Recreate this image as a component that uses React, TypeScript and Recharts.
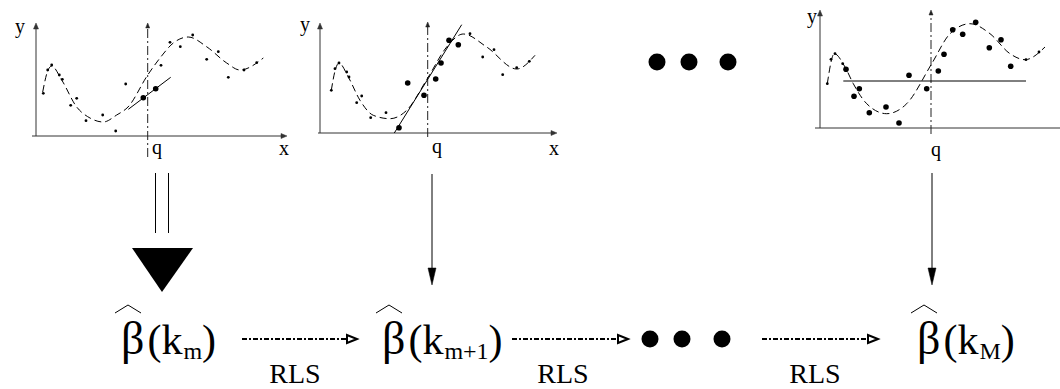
import React from 'react';
import { ComposedChart, XAxis, YAxis, Line, Scatter, ReferenceLine, ReferenceDot } from 'recharts';

const SERIF = "'Liberation Serif', Tinos, 'Times New Roman', 'DejaVu Serif', serif";
const FONT_CSS = `#root svg text.rs-serif, #root svg text.rs-serif tspan { font-family: ${SERIF} !important; }`;

// ---- panel 1: local linear fit at q (units = px from the axis origin)
const curve1 = [
  { x: 6.7, y: 44 }, { x: 11, y: 63 }, { x: 15.7, y: 70 }, { x: 25.7, y: 56 }, { x: 40.7, y: 29 },
  { x: 54, y: 18 }, { x: 67.3, y: 14 }, { x: 80.7, y: 21 }, { x: 92, y: 29 }, { x: 111.7, y: 61 },
  { x: 124, y: 78 }, { x: 137.3, y: 93 }, { x: 152.3, y: 99 }, { x: 171, y: 89 }, { x: 190.7, y: 73 },
  { x: 204, y: 66 }, { x: 227.3, y: 78 },
];
const dots1 = [
  { x: 7.3, y: 42.7 }, { x: 11.7, y: 66 }, { x: 15.7, y: 71 }, { x: 23.3, y: 61 }, { x: 26.3, y: 56.7 },
  { x: 34.7, y: 30.7 }, { x: 40.7, y: 37.7 }, { x: 50, y: 15.3 }, { x: 66.7, y: 21 }, { x: 79.7, y: 5 },
  { x: 89.7, y: 52 }, { x: 125, y: 70.7 }, { x: 134, y: 93.7 }, { x: 144.3, y: 89.3 }, { x: 156.7, y: 101 },
  { x: 170.7, y: 76.7 }, { x: 182.3, y: 84.3 }, { x: 192.3, y: 58.7 }, { x: 208, y: 66 }, { x: 220.7, y: 73.3 },
];
const bigDots1 = [{ x: 107.3, y: 38.3 }, { x: 119.7, y: 47.3 }];
const fit1 = [{ x: 92.3, y: 26.7 }, { x: 134.7, y: 58.7 }];

// ---- panel 2: steeper fit with more weighted points
const curve2 = [
  { x: 11.3, y: 42.7 }, { x: 15, y: 62 }, { x: 19, y: 70 }, { x: 28.3, y: 56 }, { x: 40, y: 32.7 },
  { x: 53.3, y: 17.7 }, { x: 70, y: 14.3 }, { x: 86.7, y: 22.7 }, { x: 107.7, y: 55 }, { x: 126.7, y: 86 },
  { x: 143.3, y: 99 }, { x: 166.7, y: 86 }, { x: 196.7, y: 64 }, { x: 215, y: 77.7 },
];
const dots2 = [
  { x: 11.3, y: 42.7 }, { x: 15, y: 64.3 }, { x: 19, y: 70 }, { x: 26.7, y: 61 }, { x: 29, y: 56 },
  { x: 36.7, y: 30.3 }, { x: 41.7, y: 37 }, { x: 50.7, y: 15.3 }, { x: 66, y: 20.3 }, { x: 150, y: 99.3 },
  { x: 162.7, y: 76 }, { x: 174, y: 83.3 }, { x: 182.7, y: 58.3 }, { x: 196.7, y: 65.3 }, { x: 209.3, y: 71.7 },
];
const bigDots2 = [
  { x: 79, y: 5.3 }, { x: 87.7, y: 50 }, { x: 104, y: 37.7 }, { x: 115.7, y: 54 }, { x: 121, y: 70 },
  { x: 129, y: 92.7 }, { x: 138.3, y: 88.3 },
];
const fit2 = [{ x: 74.3, y: 0 }, { x: 141.7, y: 108.3 }];

// ---- panel 3: constant fit, all points weighted
const curve3 = [
  { x: 7.3, y: 44.3 }, { x: 14.3, y: 74.3 }, { x: 25, y: 61 }, { x: 33.3, y: 44.3 }, { x: 46.7, y: 24.3 },
  { x: 66.7, y: 14.3 }, { x: 86.7, y: 24.3 }, { x: 111.7, y: 64.3 }, { x: 130, y: 94.3 }, { x: 150, y: 104.3 },
  { x: 170, y: 94.3 }, { x: 190, y: 74.3 }, { x: 205, y: 68.3 }, { x: 225, y: 81 },
];
const dots3 = [
  { x: 7.3, y: 44.3 }, { x: 11, y: 68.7 }, { x: 15, y: 74.3 }, { x: 22.7, y: 64.3 }, { x: 206, y: 68.3 },
  { x: 219, y: 76 },
];
const bigDots3 = [
  { x: 26, y: 58.7 }, { x: 34, y: 31.7 }, { x: 39.3, y: 39.3 }, { x: 49.3, y: 15.3 }, { x: 66, y: 21 },
  { x: 79, y: 5 }, { x: 89, y: 52.7 }, { x: 106.7, y: 39.3 }, { x: 118.3, y: 57 }, { x: 124, y: 73.7 },
  { x: 132.7, y: 98.3 }, { x: 142.7, y: 93.7 }, { x: 155.7, y: 105.7 }, { x: 169.3, y: 80.3 },
  { x: 181, y: 88.3 }, { x: 190.7, y: 61.7 },
];
const fit3 = [{ x: 23.3, y: 47 }, { x: 206, y: 47 }];

// ---- lower row (diagram coordinates)
const ellipsisTop = [{ x: 657, y: 62 }, { x: 689, y: 62 }, { x: 728, y: 62 }];
const ellipsisBottom = [{ x: 650, y: 339 }, { x: 682, y: 339 }, { x: 722, y: 339 }];
const stages = [
  { x: 121, y: 354, sub: 'm' },
  { x: 382, y: 354, sub: 'm+1' },
  { x: 917, y: 354, sub: 'M' },
];
const rlsArrows = [
  { from: 242, to: 357, y: 339 },
  { from: 512, to: 628, y: 339 },
  { from: 762, to: 878, y: 339 },
];
const rlsLabels = [{ x: 295, y: 383 }, { x: 563, y: 383 }, { x: 815, y: 383 }];
const downArrows = [
  { x: 432, from: 174, to: 285 },
  { x: 932, from: 173, to: 285 },
];
const bigArrow = { x: 162, from: 173, to: 292 };

type ArrowOpts = { width?: number; dash?: string; hollow?: boolean; color?: string };

const arrowLine = (head: number, half: number, opts: ArrowOpts) => (p: any) => {
  const { x1, y1, x2, y2 } = p;
  const dx = x2 - x1;
  const dy = y2 - y1;
  const len = Math.hypot(dx, dy) || 1;
  const ux = dx / len;
  const uy = dy / len;
  const bx = x2 - ux * head;
  const by = y2 - uy * head;
  const nx = -uy * half;
  const ny = ux * half;
  const c = opts.color ?? '#000';
  const w = opts.width ?? 1;
  return (
    <g>
      <line x1={x1} y1={y1} x2={bx} y2={by} stroke={c} strokeWidth={w} strokeDasharray={opts.dash} />
      <polygon
        points={`${x2},${y2} ${bx + nx},${by + ny} ${bx - nx},${by - ny}`}
        fill={opts.hollow ? '#fff' : c}
        stroke={c}
        strokeWidth={opts.hollow ? w : 0.5}
      />
    </g>
  );
};

// double shaft + big solid head
const doubleArrow = (p: any) => {
  const { x1, y1, y2 } = p;
  return (
    <g>
      <line x1={x1 - 6.5} y1={y1} x2={x1 - 6.5} y2={y1 + 60} stroke="#000" strokeWidth={1} />
      <line x1={x1 + 6.5} y1={y1} x2={x1 + 6.5} y2={y1 + 60} stroke="#000" strokeWidth={1} />
      <polygon points={`${x1 - 30},${y2 - 44} ${x1 + 31},${y2 - 44} ${x1},${y2}`} fill="#000" />
    </g>
  );
};

const smallDot = (p: any) => <circle cx={p.cx} cy={p.cy} r={1.4} fill="#000" />;
const bigDot = (p: any) => <circle cx={p.cx} cy={p.cy} r={2.8} fill="#000" />;
const ellipsisDot = (p: any) => <circle cx={p.cx} cy={p.cy} r={8.5} fill="#000" />;

const textShape = (value: string, size: number) => (p: any) => (
  <text
    className="rs-serif"
    x={p.cx}
    y={p.cy}
    textAnchor="middle"
    fontFamily={SERIF}
    fontSize={size}
    style={{ fontFamily: SERIF }}
    fill="#000"
  >
    {value}
  </text>
);

const betaShape = (sub: string) => (p: any) => {
  const { cx, cy } = p;
  return (
    <g>
      <polyline
        points={`${cx - 6},${cy - 41} ${cx + 7},${cy - 49} ${cx + 20},${cy - 41}`}
        fill="none"
        stroke="#000"
        strokeWidth={1}
      />
      <text className="rs-serif" x={cx} y={cy} fontFamily={SERIF} style={{ fontFamily: SERIF }} fill="#000">
        <tspan fontSize={46}>β</tspan>
        <tspan fontSize={42} dx={3}>(k</tspan>
        <tspan fontSize={24} dx={1} dy={5}>{sub}</tspan>
        <tspan fontSize={42} dy={-5}>)</tspan>
      </text>
    </g>
  );
};

type PanelProps = {
  left: number;
  top: number;
  xDomain: [number, number];
  yDomain: [number, number];
  curve: { x: number; y: number }[];
  dots: { x: number; y: number }[];
  bigDots: { x: number; y: number }[];
  fit: { x: number; y: number }[];
  xAxis: [number, number];
  yTop: number;
  q: number;
  qRange: [number, number];
  labels: { x: number; y: number; text: string }[];
};

const Panel = (props: PanelProps) => {
  const { left, top, xDomain, yDomain } = props;
  const width = xDomain[1] - xDomain[0];
  const height = yDomain[1] - yDomain[0];
  return (
    <div style={{ position: 'absolute', left, top, width, height }}>
      <ComposedChart width={width} height={height} margin={{ top: 0, right: 0, bottom: 0, left: 0 }}>
        <XAxis type="number" dataKey="x" domain={xDomain} allowDataOverflow hide />
        <YAxis type="number" dataKey="y" domain={yDomain} allowDataOverflow hide />
        <ReferenceLine
          segment={[{ x: props.xAxis[0], y: 0 }, { x: props.xAxis[1], y: 0 }]}
          ifOverflow="visible"
          shape={arrowLine(6, 2.5, { color: '#333' })}
        />
        <ReferenceLine
          segment={[{ x: 0, y: 0 }, { x: 0, y: props.yTop }]}
          ifOverflow="visible"
          shape={arrowLine(6, 2.5, { color: '#333' })}
        />
        <ReferenceLine
          segment={[{ x: props.q, y: props.qRange[0] }, { x: props.q, y: props.qRange[1] }]}
          ifOverflow="visible"
          shape={arrowLine(5, 2, { dash: '9 3 2 3', color: '#222' })}
        />
        <Line
          data={props.curve}
          dataKey="y"
          type="monotone"
          stroke="#000"
          strokeWidth={1}
          strokeDasharray="7 4"
          dot={false}
          activeDot={false}
          isAnimationActive={false}
        />
        <Line
          data={props.fit}
          dataKey="y"
          type="linear"
          stroke="#000"
          strokeWidth={1}
          dot={false}
          activeDot={false}
          isAnimationActive={false}
        />
        <Scatter data={props.dots} dataKey="y" shape={smallDot} isAnimationActive={false} />
        <Scatter data={props.bigDots} dataKey="y" shape={bigDot} isAnimationActive={false} />
        {props.labels.map((l, i) => (
          <ReferenceDot key={i} x={l.x} y={l.y} r={0} ifOverflow="visible" shape={textShape(l.text, 20)} />
        ))}
      </ComposedChart>
    </div>
  );
};

const App = () => {
  return (
    <div style={{ position: 'absolute', left: 0, top: 0, width: 1060, height: 389, background: '#fff', overflow: 'hidden' }}>
      <style>{FONT_CSS}</style>
      <Panel
        left={6}
        top={6}
        xDomain={[-30, 260]}
        yDomain={[-30, 130]}
        curve={curve1}
        dots={dots1}
        bigDots={bigDots1}
        fit={fit1}
        xAxis={[-4, 251]}
        yTop={113}
        q={111.7}
        qRange={[-21, 113]}
        labels={[
          { x: -16, y: 103, text: 'y' },
          { x: 248, y: -19, text: 'x' },
          { x: 121, y: -18, text: 'q' },
        ]}
      />
      <Panel
        left={295}
        top={3}
        xDomain={[-25, 245]}
        yDomain={[-30, 130]}
        curve={curve2}
        dots={dots2}
        bigDots={bigDots2}
        fit={fit2}
        xAxis={[-2, 237]}
        yTop={110}
        q={107.7}
        qRange={[-4, 111]}
        labels={[
          { x: -15, y: 102, text: 'y' },
          { x: 234, y: -22, text: 'x' },
          { x: 117, y: -20, text: 'q' },
        ]}
      />
      <Panel
        left={800}
        top={0}
        xDomain={[-20, 240]}
        yDomain={[-35, 128]}
        curve={curve3}
        dots={dots3}
        bigDots={bigDots3}
        fit={fit3}
        xAxis={[-5, 260]}
        yTop={118}
        q={111}
        qRange={[-6, 118]}
        labels={[
          { x: -8, y: 105, text: 'y' },
          { x: 116, y: -28, text: 'q' },
        ]}
      />
      <div style={{ position: 'absolute', left: 0, top: 0, width: 1060, height: 389 }}>
        <ComposedChart width={1060} height={389} margin={{ top: 0, right: 0, bottom: 0, left: 0 }}>
          <XAxis type="number" dataKey="x" domain={[0, 1060]} allowDataOverflow hide />
          <YAxis type="number" dataKey="y" domain={[0, 389]} reversed allowDataOverflow hide />
          <ReferenceLine
            segment={[{ x: bigArrow.x, y: bigArrow.from }, { x: bigArrow.x, y: bigArrow.to }]}
            ifOverflow="visible"
            shape={doubleArrow}
          />
          {downArrows.map((a, i) => (
            <ReferenceLine
              key={`d${i}`}
              segment={[{ x: a.x, y: a.from }, { x: a.x, y: a.to }]}
              ifOverflow="visible"
              shape={arrowLine(17, 4, { color: '#000' })}
            />
          ))}
          {rlsArrows.map((a, i) => (
            <ReferenceLine
              key={`r${i}`}
              segment={[{ x: a.from, y: a.y }, { x: a.to, y: a.y }]}
              ifOverflow="visible"
              shape={arrowLine(10, 4, { width: 2, dash: '5 2 2 2', hollow: true })}
            />
          ))}
          <Scatter data={ellipsisTop} dataKey="y" shape={ellipsisDot} isAnimationActive={false} />
          <Scatter data={ellipsisBottom} dataKey="y" shape={ellipsisDot} isAnimationActive={false} />
          {stages.map((s, i) => (
            <ReferenceDot key={`s${i}`} x={s.x} y={s.y} r={0} ifOverflow="visible" shape={betaShape(s.sub)} />
          ))}
          {rlsLabels.map((l, i) => (
            <ReferenceDot key={`l${i}`} x={l.x} y={l.y} r={0} ifOverflow="visible" shape={textShape('RLS', 28)} />
          ))}
        </ComposedChart>
      </div>
    </div>
  );
};

export default App;
